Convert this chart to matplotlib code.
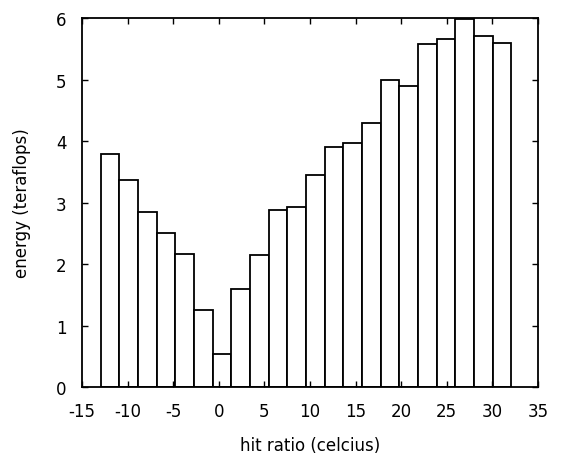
import matplotlib
matplotlib.use("Agg")
import matplotlib.pyplot as plt

# Bar centres (celcius) and heights (teraflops)
centres = [-11.93, -9.89, -7.84, -5.79, -3.75, -1.70, 0.35, 2.39, 4.44, 6.49,
           8.53, 10.58, 12.63, 14.68, 16.72, 18.77, 20.82, 22.86, 24.91,
           26.96, 29.00, 31.05]
energy = [3.79, 3.37, 2.84, 2.50, 2.17, 1.25, 0.54, 1.59, 2.15, 2.88,
          2.92, 3.45, 3.91, 3.97, 4.30, 5.00, 4.90, 5.58, 5.66, 5.98,
          5.70, 5.60]
bar_width = 2.048

xticks = [-15, -10, -5, 0, 5, 10, 15, 20, 25, 30, 35]
yticks = [0, 1, 2, 3, 4, 5, 6]

plt.rcParams["font.family"] = ["DejaVu Sans"]
plt.rcParams["font.size"] = 12
plt.rcParams["axes.unicode_minus"] = False

fig = plt.figure(figsize=(5.63, 4.60), dpi=100, facecolor="white")
ax = fig.add_axes([0.1456, 0.1565, 0.81, 0.8022])

ax.bar(centres, energy, width=bar_width, facecolor="white",
       edgecolor="black", linewidth=1.3)

ax.set_xlim(-15, 35)
ax.set_ylim(0, 6)
ax.set_xticks(xticks)
ax.set_yticks(yticks)
ax.tick_params(direction="in", top=True, right=True, length=4,
               width=1, pad=11)
for s in ax.spines.values():
    s.set_linewidth(1.3)

ax.set_xlabel("hit ratio (celcius)", labelpad=11)
ax.set_ylabel("energy (teraflops)", labelpad=18)

fig.savefig("out.png", dpi=100)
